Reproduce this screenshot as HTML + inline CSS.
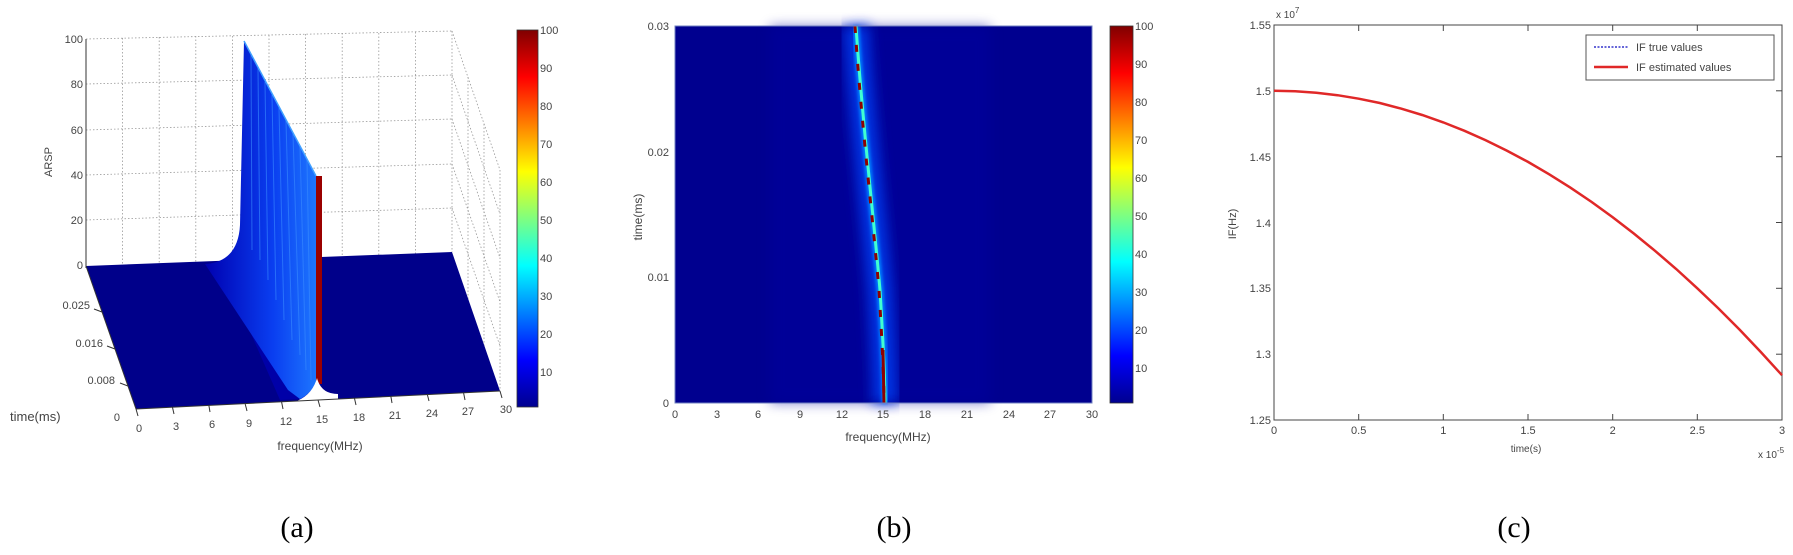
<!DOCTYPE html>
<html><head><meta charset="utf-8"><style>
html,body{margin:0;padding:0;background:#fff;}
svg{display:block;font-family:"Liberation Sans",sans-serif;}
.t{font-size:11px;fill:#444;}
.cap{font-family:"Liberation Serif",serif;font-size:30px;fill:#000;}
</style></head><body>
<svg width="1793" height="555" viewBox="0 0 1793 555" xmlns="http://www.w3.org/2000/svg">
<defs>
<linearGradient id="jet" x1="0" y1="1" x2="0" y2="0">
<stop offset="0" stop-color="#00008f"/><stop offset="0.125" stop-color="#0000ff"/>
<stop offset="0.375" stop-color="#00ffff"/><stop offset="0.625" stop-color="#ffff00"/>
<stop offset="0.875" stop-color="#ff0000"/><stop offset="1" stop-color="#800000"/>
</linearGradient>
<linearGradient id="ridge" x1="0" y1="0" x2="1" y2="0">
<stop offset="0" stop-color="#0000b0"/><stop offset="0.6" stop-color="#0a3ef0"/><stop offset="1" stop-color="#1e78ff"/>
</linearGradient>
<filter id="bl" x="-50%" y="-10%" width="200%" height="120%"><feGaussianBlur stdDeviation="6"/></filter>
<filter id="bl2"><feGaussianBlur stdDeviation="1.5"/></filter>
</defs>

<!-- ===== Panel (a) ===== -->
<g stroke="#999" stroke-width="0.8" stroke-dasharray="1.5,2" fill="none">
<line x1="86" y1="39" x2="452" y2="31"/>
<line x1="86" y1="84" x2="452" y2="75"/>
<line x1="86" y1="130" x2="452" y2="119"/>
<line x1="86" y1="175" x2="452" y2="164"/>
<line x1="86" y1="220" x2="452" y2="208"/>
<line x1="122.6" y1="38" x2="122.6" y2="265"/><line x1="159.2" y1="37" x2="159.2" y2="263"/>
<line x1="195.8" y1="36" x2="195.8" y2="262"/><line x1="232.4" y1="36" x2="232.4" y2="261"/>
<line x1="269" y1="35" x2="269" y2="259"/><line x1="305.6" y1="34" x2="305.6" y2="258"/>
<line x1="342.2" y1="33" x2="342.2" y2="257"/><line x1="378.8" y1="33" x2="378.8" y2="255"/>
<line x1="415.4" y1="32" x2="415.4" y2="254"/><line x1="452" y1="31" x2="452" y2="252"/>
<line x1="452" y1="31" x2="500" y2="170"/><line x1="452" y1="75" x2="500" y2="214"/>
<line x1="452" y1="119" x2="500" y2="258"/><line x1="452" y1="164" x2="500" y2="302"/>
<line x1="452" y1="208" x2="500" y2="346"/>
<line x1="468" y1="77" x2="468" y2="300"/><line x1="484" y1="124" x2="484" y2="346"/>
<line x1="500" y1="170" x2="500" y2="391"/>
</g>
<line x1="86" y1="39" x2="86" y2="268" stroke="#333" stroke-width="1"/>
<g class="t" text-anchor="end">
<text x="83" y="43">100</text><text x="83" y="88">80</text><text x="83" y="134">60</text>
<text x="83" y="179">40</text><text x="83" y="224">20</text><text x="83" y="269">0</text>
</g>
<text class="t" transform="translate(52,162) rotate(-90)" text-anchor="middle">ARSP</text>
<polygon points="86,266 452,252 500,391 136,409" fill="#00008a"/>
<polygon points="220,263 245,262 316,262 320,388 303,399 280,400" fill="#0000a8"/>
<path d="M205,264 Q238,262 240,225 L244,41 L316,176 L318,376 Q314,392 300,399 L288,390 Z" fill="url(#ridge)"/>
<g stroke="#3a8cff" stroke-width="1" opacity="0.6">
<line x1="251" y1="55" x2="252" y2="250"/><line x1="258" y1="68" x2="260" y2="260"/>
<line x1="265" y1="82" x2="268" y2="280"/><line x1="272" y1="95" x2="276" y2="300"/>
<line x1="279" y1="108" x2="284" y2="320"/><line x1="286" y1="121" x2="292" y2="340"/>
<line x1="293" y1="134" x2="300" y2="355"/><line x1="300" y1="147" x2="306" y2="370"/>
<line x1="307" y1="160" x2="311" y2="380"/>
</g>
<line x1="244" y1="41" x2="316" y2="176" stroke="#40a0ff" stroke-width="1.5"/>
<rect x="316" y="176" width="6" height="208" fill="#9a0000"/>
<path d="M294,402 Q312,396 317,378 Q321,394 338,394 L338,404 L294,404 Z" fill="#fff"/>
<line x1="136" y1="409" x2="500" y2="391" stroke="#333" stroke-width="1"/>
<line x1="86" y1="266" x2="136" y2="409" stroke="#333" stroke-width="1"/>
<g stroke="#333" stroke-width="1">
<line x1="136" y1="409" x2="138" y2="416"/><line x1="172.4" y1="407" x2="174" y2="414"/>
<line x1="208.8" y1="405" x2="210" y2="412"/><line x1="245.2" y1="404" x2="247" y2="411"/>
<line x1="281.6" y1="402" x2="283" y2="409"/><line x1="318" y1="400" x2="320" y2="407"/>
<line x1="354.4" y1="398" x2="356" y2="405"/><line x1="390.8" y1="396" x2="392" y2="403"/>
<line x1="427.2" y1="394" x2="429" y2="401"/><line x1="463.6" y1="393" x2="465" y2="400"/>
<line x1="500" y1="391" x2="502" y2="398"/>
<line x1="102" y1="312" x2="94" y2="309"/><line x1="115" y1="349" x2="107" y2="346"/><line x1="128" y1="386" x2="120" y2="383"/>
</g>
<g class="t" text-anchor="middle">
<text x="139" y="432">0</text><text x="176" y="430">3</text><text x="212" y="428">6</text>
<text x="249" y="427">9</text><text x="286" y="425">12</text><text x="322" y="423">15</text>
<text x="359" y="421">18</text><text x="395" y="419">21</text><text x="432" y="417">24</text>
<text x="468" y="415">27</text><text x="506" y="413">30</text>
</g>
<g class="t" text-anchor="end">
<text x="90" y="309">0.025</text><text x="103" y="347">0.016</text><text x="115" y="384">0.008</text><text x="120" y="421">0</text>
</g>
<text x="10" y="421" style="font-size:13px;fill:#444">time(ms)</text>
<text x="320" y="450" class="t" style="font-size:12px" text-anchor="middle">frequency(MHz)</text>
<rect x="517" y="30" width="21" height="377" fill="url(#jet)" stroke="#333" stroke-width="0.8"/>
<g class="t">
<text x="540" y="34">100</text><text x="540" y="72">90</text><text x="540" y="110">80</text>
<text x="540" y="148">70</text><text x="540" y="186">60</text><text x="540" y="224">50</text>
<text x="540" y="262">40</text><text x="540" y="300">30</text><text x="540" y="338">20</text><text x="540" y="376">10</text>
</g>

<!-- ===== Panel (b) ===== -->
<rect x="675" y="26" width="417" height="377" fill="#00008f"/>
<rect x="770" y="26" width="220" height="377" fill="#0000a0" opacity="0.5" filter="url(#bl)"/>
<path d="M856,26 C862,120 874,220 880,290 C883,340 885,380 885,403" fill="none" stroke="#0030e0" stroke-width="26" filter="url(#bl)"/>
<path d="M856,26 C862,120 874,220 880,290 C883,340 885,380 885,403" fill="none" stroke="#0080ff" stroke-width="7" filter="url(#bl2)"/>
<path d="M856,26 C862,120 874,220 880,290 C883,340 885,380 885,403" fill="none" stroke="#40ffd0" stroke-width="3"/>
<path d="M855,26 C861,120 873,220 879,290 C882,340 884,380 884,403" fill="none" stroke="#900000" stroke-width="3" stroke-dasharray="7,12"/>
<path d="M883,350 L884,403" stroke="#900000" stroke-width="3"/>
<rect x="675" y="26" width="417" height="377" fill="none" stroke="#7080c0" stroke-width="1"/>
<g class="t" text-anchor="end">
<text x="669" y="30">0.03</text><text x="669" y="156">0.02</text><text x="669" y="281">0.01</text><text x="669" y="407">0</text>
</g>
<g class="t" text-anchor="middle">
<text x="675" y="418">0</text><text x="717" y="418">3</text><text x="758" y="418">6</text>
<text x="800" y="418">9</text><text x="842" y="418">12</text><text x="883" y="418">15</text>
<text x="925" y="418">18</text><text x="967" y="418">21</text><text x="1009" y="418">24</text>
<text x="1050" y="418">27</text><text x="1092" y="418">30</text>
</g>
<text x="888" y="441" class="t" style="font-size:12px" text-anchor="middle">frequency(MHz)</text>
<text class="t" style="font-size:12px" transform="translate(642,217) rotate(-90)" text-anchor="middle">time(ms)</text>
<rect x="1110" y="26" width="23" height="377" fill="url(#jet)" stroke="#333" stroke-width="0.8"/>
<g class="t">
<text x="1135" y="30">100</text><text x="1135" y="68">90</text><text x="1135" y="106">80</text>
<text x="1135" y="144">70</text><text x="1135" y="182">60</text><text x="1135" y="220">50</text>
<text x="1135" y="258">40</text><text x="1135" y="296">30</text><text x="1135" y="334">20</text><text x="1135" y="372">10</text>
</g>

<!-- ===== Panel (c) ===== -->
<rect x="1274" y="25" width="508" height="395" fill="none" stroke="#444" stroke-width="1"/>
<g stroke="#444" stroke-width="1">
<line x1="1358.7" y1="420" x2="1358.7" y2="414"/><line x1="1443.3" y1="420" x2="1443.3" y2="414"/>
<line x1="1528" y1="420" x2="1528" y2="414"/><line x1="1612.7" y1="420" x2="1612.7" y2="414"/>
<line x1="1697.3" y1="420" x2="1697.3" y2="414"/>
<line x1="1358.7" y1="25" x2="1358.7" y2="31"/><line x1="1443.3" y1="25" x2="1443.3" y2="31"/>
<line x1="1528" y1="25" x2="1528" y2="31"/><line x1="1612.7" y1="25" x2="1612.7" y2="31"/>
<line x1="1697.3" y1="25" x2="1697.3" y2="31"/>
<line x1="1782" y1="90.8" x2="1776" y2="90.8"/><line x1="1782" y1="156.7" x2="1776" y2="156.7"/>
<line x1="1782" y1="222.5" x2="1776" y2="222.5"/><line x1="1782" y1="288.3" x2="1776" y2="288.3"/>
<line x1="1782" y1="354.2" x2="1776" y2="354.2"/>
</g>
<polyline fill="none" stroke="#e02828" stroke-width="2.5" points="1274,90.8 1295.2,91.3 1316.3,92.8 1337.5,95.2 1358.7,98.7 1379.8,103.0 1401,108.6 1422.2,115.0 1443.3,122.4 1464.5,130.8 1485.7,140.2 1506.8,150.6 1528,161.9 1549.2,174.3 1570.3,187.6 1591.5,201.9 1612.7,217.2 1633.8,233.5 1655,250.8 1676.2,269.0 1697.3,288.3 1718.5,308.5 1739.7,329.8 1760.8,352.0 1782,375.2"/>
<g class="t" text-anchor="end">
<text x="1271" y="29">1.55</text><text x="1271" y="95">1.5</text><text x="1271" y="161">1.45</text>
<text x="1271" y="227">1.4</text><text x="1271" y="292">1.35</text><text x="1271" y="358">1.3</text><text x="1271" y="424">1.25</text>
</g>
<text x="1276" y="18" class="t" style="font-size:10px">x 10<tspan dy="-5" font-size="8">7</tspan></text>
<g class="t" text-anchor="middle">
<text x="1274" y="434">0</text><text x="1358.7" y="434">0.5</text><text x="1443.3" y="434">1</text>
<text x="1528" y="434">1.5</text><text x="1612.7" y="434">2</text><text x="1697.3" y="434">2.5</text><text x="1782" y="434">3</text>
</g>
<text x="1526" y="452" class="t" style="font-size:10px" text-anchor="middle">time(s)</text>
<text x="1758" y="458" class="t" style="font-size:10px">x 10<tspan dy="-5" font-size="8">-5</tspan></text>
<text class="t" style="font-size:11px" transform="translate(1236,224) rotate(-90)" text-anchor="middle">IF(Hz)</text>
<rect x="1586" y="35" width="188" height="45" fill="#fff" stroke="#555" stroke-width="1"/>
<line x1="1594" y1="47" x2="1628" y2="47" stroke="#3333cc" stroke-width="1.5" stroke-dasharray="2,1.5"/>
<line x1="1594" y1="67" x2="1628" y2="67" stroke="#e02828" stroke-width="2.5"/>
<text x="1636" y="51" class="t" style="font-size:11px">IF true values</text>
<text x="1636" y="71" class="t" style="font-size:11px">IF estimated values</text>

<text x="297" y="537" class="cap" text-anchor="middle">(a)</text>
<text x="894" y="537" class="cap" text-anchor="middle">(b)</text>
<text x="1514" y="537" class="cap" text-anchor="middle">(c)</text>
</svg>
</body></html>
